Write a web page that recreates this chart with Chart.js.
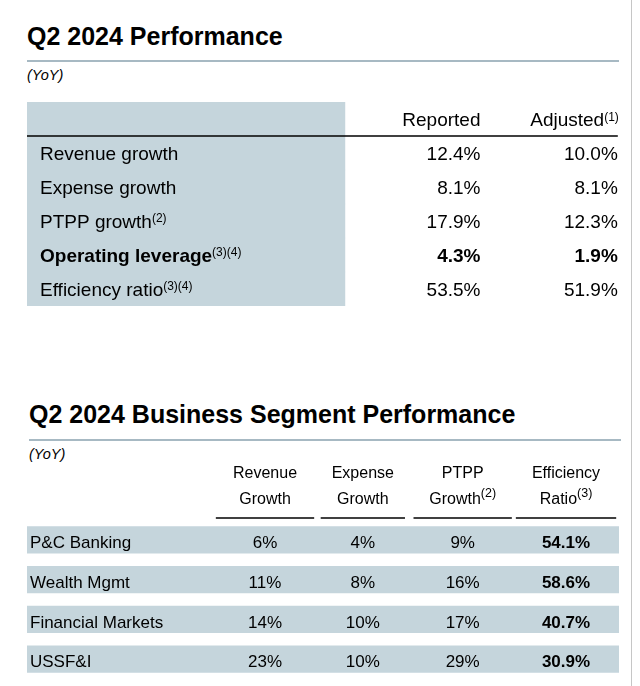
<!DOCTYPE html>
<html><head><meta charset="utf-8">
<script src="https://cdn.jsdelivr.net/npm/chart.js@4/dist/chart.umd.min.js"></script>
<style>
html,body{margin:0;padding:0;background:#fff;}
body{width:640px;height:686px;position:relative;overflow:hidden;font-family:"Liberation Sans",Arial,sans-serif;color:#000;}
.t{position:absolute;white-space:nowrap;}
.title{font-weight:bold;font-size:25px;line-height:25px;}
.yoy{font-style:italic;font-size:14.5px;line-height:14.5px;}
.rule{position:absolute;height:2px;background:#a7b9c3;}
.box{position:absolute;left:0;width:640px;}
</style></head><body>
<div class="t title" style="left:27px;top:24px">Q2 2024 Performance</div>
<div class="rule" style="left:27px;top:60px;width:592px"></div>
<div class="t yoy" style="left:27px;top:68px">(YoY)</div>
<div class="box" style="top:90px;height:230px"><canvas id="c1"></canvas></div>
<div class="t title" style="left:29px;top:402px">Q2 2024 Business Segment Performance</div>
<div class="rule" style="left:29px;top:439px;width:592px"></div>
<div class="t yoy" style="left:29px;top:447px">(YoY)</div>
<div class="box" style="top:445px;height:241px"><canvas id="c2"></canvas></div>
<div style="position:absolute;left:631px;top:0;width:1px;height:686px;background:#c6c6c6"></div>
<script>
// ---- Data: Q2 2024 Performance ----
const perfColumns = ['Reported', 'Adjusted'];
const perfColumnNotes = ['', '(1)'];
const perfRows = ['Revenue growth', 'Expense growth', 'PTPP growth', 'Operating leverage', 'Efficiency ratio'];
const perfRowNotes = ['', '', '(2)', '(3)(4)', '(3)(4)'];
const perfReported = [12.4, 8.1, 17.9, 4.3, 53.5];
const perfAdjusted = [10.0, 8.1, 12.3, 1.9, 51.9];
const perfBoldRows = ['Operating leverage'];

// ---- Data: Q2 2024 Business Segment Performance ----
const segments = ['P&C Banking', 'Wealth Mgmt', 'Financial Markets', 'USSF&I'];
const segHeaders = [['Revenue', 'Growth'], ['Expense', 'Growth'], ['PTPP', 'Growth'], ['Efficiency', 'Ratio']];
const segHeaderNotes = ['', '', '(2)', '(3)'];
const segRevenueGrowth = [6, 11, 14, 23];
const segExpenseGrowth = [4, 8, 10, 10];
const segPtppGrowth = [9, 16, 17, 29];
const segEfficiencyRatio = [54.1, 58.6, 40.7, 30.9];

// ---- Styling / layout ----
const FF = '"Liberation Sans", Arial, sans-serif';
const SHADE = '#c5d5dc';
const P_COL_RIGHT = [0.766, 0.998];   // right edges of Reported / Adjusted columns (fraction of table width)
const P_LABEL_END = 0.537;            // end of shaded label column
const S_X_MIN = -1.372, S_X_MAX = 4.528;
const S_COL_X = [1, 1.975, 2.97, 4.0];
const S_UNDER_HALF = [0.49, 0.42, 0.49, 0.5];

const pct1 = v => v.toFixed(1) + '%';
const pct0 = v => v.toFixed(0) + '%';

function rich(ctx, segs, x, y, align) {
  let w = 0;
  segs.forEach(s => { ctx.font = s.font; s.w = s.text ? ctx.measureText(s.text).width : 0; w += s.w; });
  let cx = align === 'right' ? x - w : align === 'center' ? x - w / 2 : x;
  ctx.textAlign = 'left'; ctx.textBaseline = 'alphabetic'; ctx.fillStyle = '#000';
  segs.forEach(s => { if (s.text) { ctx.font = s.font; ctx.fillText(s.text, cx, y - (s.raise || 0)); } cx += s.w; });
}

const perfPlugin = {
  id: 'perfText',
  afterDatasetsDraw(chart) {
    const { ctx, scales: { x, y } } = chart;
    ctx.save();
    const f = 19;
    const body = `${f}px ${FF}`, bold = `bold ${f}px ${FF}`, sup = `12px ${FF}`;
    const off = 6.6;
    const hy = y.getPixelForValue(0) + off;
    perfColumns.forEach((c, i) => {
      rich(ctx, [{ text: c, font: body }, { text: perfColumnNotes[i], font: sup, raise: 5 }],
        x.getPixelForValue(P_COL_RIGHT[i]) + (perfColumnNotes[i] ? 1 : 0), hy, 'right');
    });
    const ly = (y.getPixelForValue(0) + y.getPixelForValue(1)) / 2;
    ctx.strokeStyle = '#000'; ctx.lineWidth = 1.6;
    ctx.beginPath(); ctx.moveTo(x.getPixelForValue(0), ly); ctx.lineTo(x.getPixelForValue(P_COL_RIGHT[1]), ly); ctx.stroke();
    perfRows.forEach((r, i) => {
      const by = y.getPixelForValue(i + 1) + off;
      const fnt = perfBoldRows.includes(r) ? bold : body;
      rich(ctx, [{ text: r, font: fnt }, { text: perfRowNotes[i], font: sup, raise: 6 }], x.getPixelForValue(0) + 13, by, 'left');
      rich(ctx, [{ text: pct1(perfReported[i]), font: fnt }], x.getPixelForValue(P_COL_RIGHT[0]), by, 'right');
      rich(ctx, [{ text: pct1(perfAdjusted[i]), font: fnt }], x.getPixelForValue(P_COL_RIGHT[1]), by, 'right');
    });
    ctx.restore();
  }
};

const segPlugin = {
  id: 'segText',
  afterDatasetsDraw(chart) {
    const { ctx, chartArea, scales: { x, y } } = chart;
    ctx.save();
    const hf = `16px ${FF}`, hsup = `12.5px ${FF}`;
    const top = chartArea.top;
    segHeaders.forEach((h, i) => {
      const cx = x.getPixelForValue(S_COL_X[i]);
      rich(ctx, [{ text: h[0], font: hf }], cx, top - 42.5, 'center');
      rich(ctx, [{ text: h[1], font: hf }, { text: segHeaderNotes[i], font: hsup, raise: 7 }], cx, top - 16, 'center');
      ctx.strokeStyle = '#000'; ctx.lineWidth = 1.6;
      ctx.beginPath();
      ctx.moveTo(x.getPixelForValue(S_COL_X[i] - S_UNDER_HALF[i]), top - 2);
      ctx.lineTo(x.getPixelForValue(S_COL_X[i] + S_UNDER_HALF[i]), top - 2);
      ctx.stroke();
    });
    const bf = `17px ${FF}`, bb = `bold 17px ${FF}`;
    const cols = [segRevenueGrowth, segExpenseGrowth, segPtppGrowth, segEfficiencyRatio];
    segments.forEach((s, i) => {
      const by = y.getPixelForValue(i) + 8.3;
      rich(ctx, [{ text: s, font: bf }], x.getPixelForValue(S_X_MIN) + 3, by, 'left');
      cols.forEach((arr, j) => {
        const txt = j === 3 ? pct1(arr[i]) : pct0(arr[i]);
        rich(ctx, [{ text: txt, font: j === 3 ? bb : bf }], x.getPixelForValue(S_COL_X[j]), by, 'center');
      });
    });
    ctx.restore();
  }
};

const common = {
  responsive: true, maintainAspectRatio: false, animation: false, events: [],
  indexAxis: 'y',
  plugins: { legend: { display: false }, tooltip: { enabled: false } }
};

new Chart(document.getElementById('c1'), {
  type: 'bar',
  data: {
    labels: ['header', ...perfRows],
    datasets: [{
      data: ['header', ...perfRows].map(() => [0, P_LABEL_END]),
      backgroundColor: SHADE, borderWidth: 0, barPercentage: 1, categoryPercentage: 1
    }]
  },
  options: Object.assign({}, common, {
    layout: { padding: { left: 27, right: 21, top: 12, bottom: 14 } },
    scales: {
      x: { type: 'linear', min: 0, max: 1, display: false },
      y: { type: 'category', display: false }
    }
  }),
  plugins: [perfPlugin]
});

new Chart(document.getElementById('c2'), {
  type: 'bar',
  data: {
    labels: segments,
    datasets: [{
      data: segments.map(() => [S_X_MIN, S_X_MAX]),
      backgroundColor: SHADE, borderWidth: 0, barPercentage: 0.68, categoryPercentage: 1
    }]
  },
  options: Object.assign({}, common, {
    layout: { padding: { left: 27, right: 21, top: 75, bottom: 7 } },
    scales: {
      x: { type: 'linear', min: S_X_MIN, max: S_X_MAX, display: false },
      y: { type: 'category', display: false }
    }
  }),
  plugins: [segPlugin]
});
</script>
</body></html>
